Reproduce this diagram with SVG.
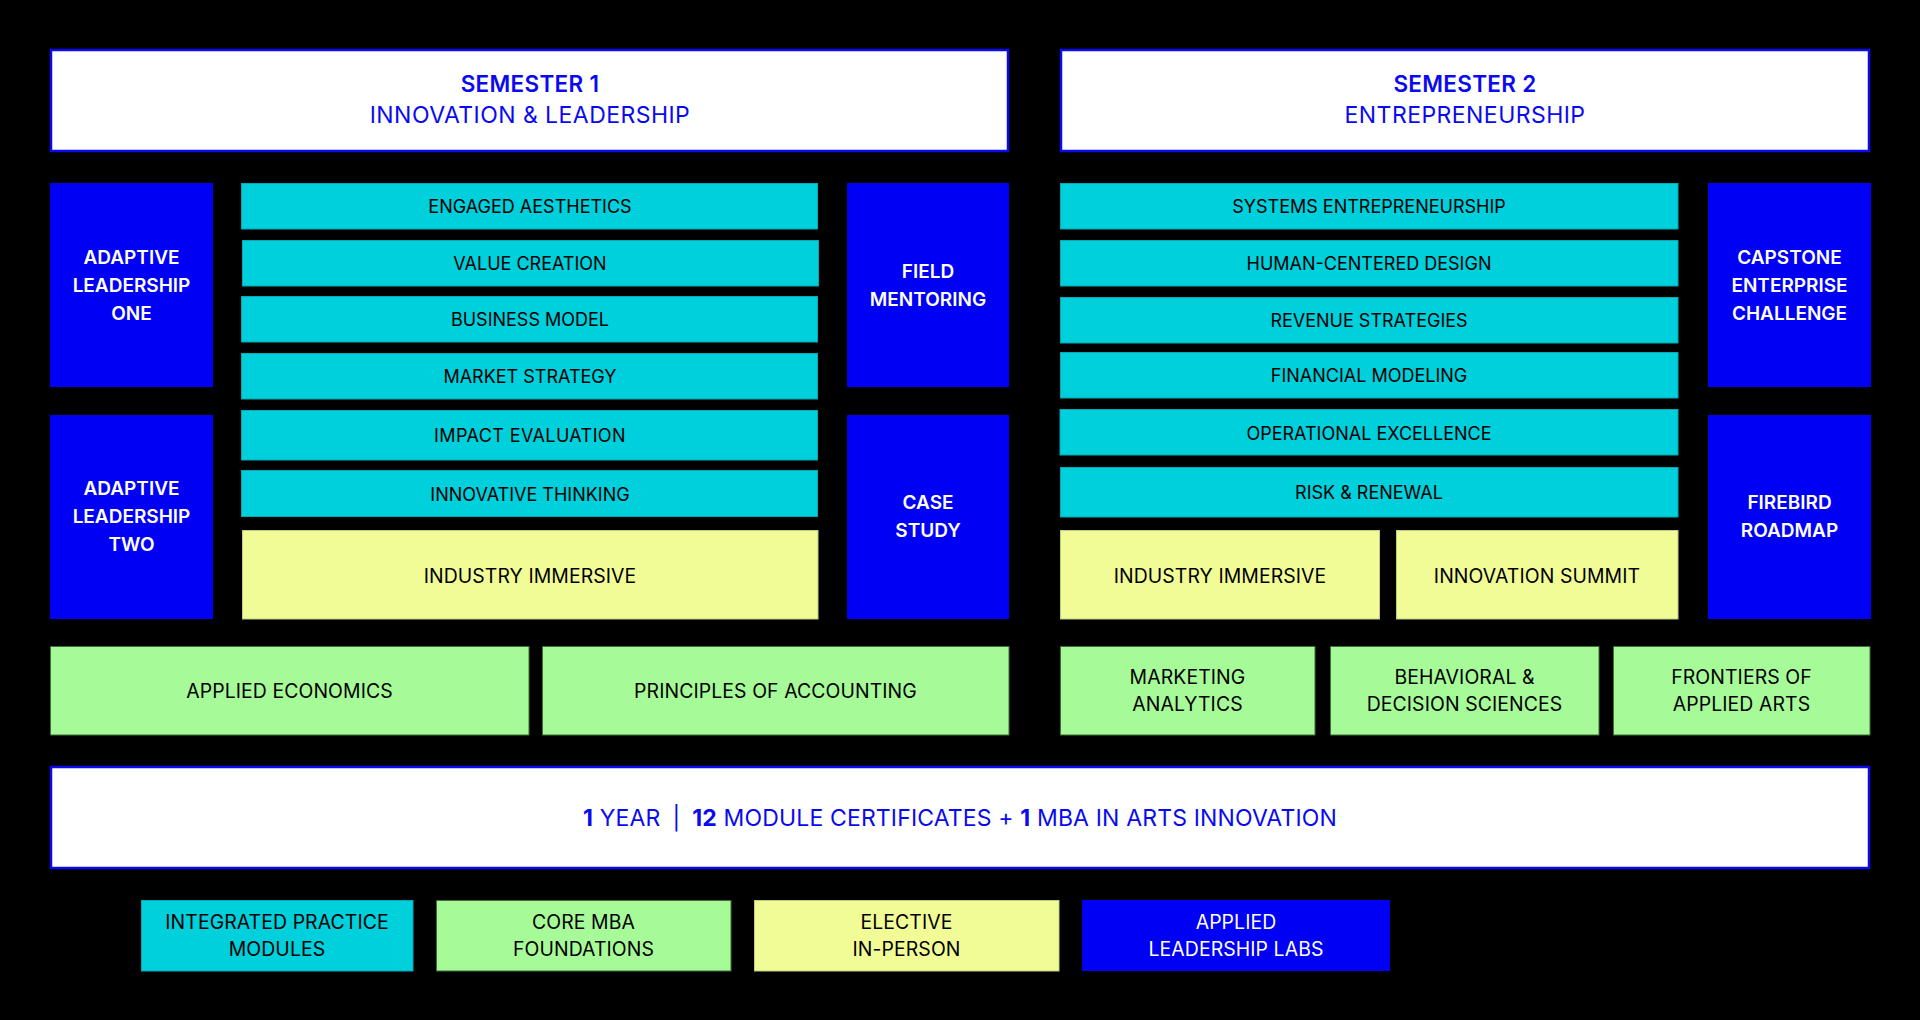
<svg xmlns="http://www.w3.org/2000/svg" width="1920" height="1020" viewBox="0 0 1920 1020">
<style>
text{font-family:Inter,"Noto Sans","Liberation Sans",sans-serif;text-anchor:middle}
.hdr{fill:#fff;stroke:#0a0af0;stroke-width:2.5}
.cy{fill:#00cfdc;stroke:#00a9b4;stroke-width:1}
.ye{fill:#f2fc96;stroke:#c4c97c;stroke-width:1}
.gr{fill:#a6fb98;stroke:#3f6e36;stroke-width:1}
.bl{fill:#0000f5}
.t{font-size:18px;fill:#000}
.s{font-size:19.4px;letter-spacing:0.1px}
.w{font-size:19px;font-weight:600;fill:#fff}
.wl{font-size:19.4px;fill:#fff;letter-spacing:0.1px}
.h1{font-size:22.5px;font-weight:600;fill:#0a0af0;letter-spacing:0.3px}
.h2{font-size:23px;fill:#0a0af0;letter-spacing:0.45px}
.ft{font-size:23px;fill:#0a0af0;letter-spacing:0.15px}
.b{font-weight:700}
</style>
<rect width="1920" height="1020" fill="#000"/>

<g id="semester1">
<rect class="hdr" x="51" y="50" width="957" height="101"/>
<text class="h1" x="530" y="92">SEMESTER 1</text>
<text class="h2" x="530" y="123">INNOVATION &amp; LEADERSHIP</text>
</g>
<g id="semester2">
<rect class="hdr" x="1061" y="50" width="808" height="101"/>
<text class="h1" x="1465" y="92">SEMESTER 2</text>
<text class="h2" x="1465" y="123">ENTREPRENEURSHIP</text>
</g>

<g id="adaptive-one"><rect class="bl" x="50" y="183" width="163" height="204"/>
<text class="w" x="131.5" y="264">ADAPTIVE</text><text class="w" x="131.5" y="292">LEADERSHIP</text><text class="w" x="131.5" y="320">ONE</text></g>
<g id="adaptive-two"><rect class="bl" x="50" y="415" width="163" height="204"/>
<text class="w" x="131.5" y="495">ADAPTIVE</text><text class="w" x="131.5" y="523">LEADERSHIP</text><text class="w" x="131.5" y="551">TWO</text></g>
<g id="field-mentoring"><rect class="bl" x="847" y="183" width="162" height="204"/>
<text class="w" x="928" y="278">FIELD</text><text class="w" x="928" y="306">MENTORING</text></g>
<g id="case-study"><rect class="bl" x="847" y="415" width="162" height="204"/>
<text class="w" x="928" y="509">CASE</text><text class="w" x="928" y="537">STUDY</text></g>
<g id="capstone"><rect class="bl" x="1708" y="183" width="163" height="204"/>
<text class="w" x="1789.5" y="264">CAPSTONE</text><text class="w" x="1789.5" y="292">ENTERPRISE</text><text class="w" x="1789.5" y="320">CHALLENGE</text></g>
<g id="firebird"><rect class="bl" x="1708" y="415" width="163" height="204"/>
<text class="w" x="1789.5" y="509">FIREBIRD</text><text class="w" x="1789.5" y="537">ROADMAP</text></g>

<g id="engaged-aesthetics"><rect class="cy" x="241.5" y="183.5" width="576" height="45.5"/><text class="t" x="530" y="213">ENGAGED AESTHETICS</text></g>
<g id="value-creation"><rect class="cy" x="242.5" y="240.5" width="576" height="45.5"/><text class="t" x="530" y="269.5">VALUE CREATION</text></g>
<g id="business-model"><rect class="cy" x="241.5" y="296.5" width="576" height="45.5"/><text class="t" x="530" y="325.5">BUSINESS MODEL</text></g>
<g id="market-strategy"><rect class="cy" x="241.5" y="353.5" width="576" height="45.5"/><text class="t" x="530" y="382.5">MARKET STRATEGY</text></g>
<g id="impact-evaluation"><rect class="cy" x="241.5" y="410.5" width="576" height="49.5"/><text class="t" x="530" y="442" style="letter-spacing:0.4px">IMPACT EVALUATION</text></g>
<g id="innovative-thinking"><rect class="cy" x="241.5" y="470.5" width="576" height="46"/><text class="t" x="530" y="500.5">INNOVATIVE THINKING</text></g>
<g id="industry-immersive-1"><rect class="ye" x="242.5" y="530.5" width="575.5" height="88.5"/><text class="t s" x="530" y="583">INDUSTRY IMMERSIVE</text></g>

<g id="systems-entrepreneurship"><rect class="cy" x="1060.5" y="183.5" width="617.5" height="45.5"/><text class="t" x="1369" y="213">SYSTEMS ENTREPRENEURSHIP</text></g>
<g id="human-centered-design"><rect class="cy" x="1060.5" y="240.5" width="617.5" height="45.5"/><text class="t" x="1369" y="269.5">HUMAN-CENTERED DESIGN</text></g>
<g id="revenue-strategies"><rect class="cy" x="1060.5" y="297.5" width="617.5" height="45.5"/><text class="t" x="1369" y="327">REVENUE STRATEGIES</text></g>
<g id="financial-modeling"><rect class="cy" x="1060.5" y="352.5" width="617.5" height="45.5"/><text class="t" x="1369" y="382">FINANCIAL MODELING</text></g>
<g id="operational-excellence"><rect class="cy" x="1060" y="409.5" width="618" height="45.5"/><text class="t" x="1369" y="439.5">OPERATIONAL EXCELLENCE</text></g>
<g id="risk-renewal"><rect class="cy" x="1060.5" y="467.5" width="617.5" height="49.5"/><text class="t" x="1369" y="498.5">RISK &amp; RENEWAL</text></g>
<g id="industry-immersive-2"><rect class="ye" x="1060.5" y="530.5" width="319" height="88.5"/><text class="t s" x="1220" y="583">INDUSTRY IMMERSIVE</text></g>
<g id="innovation-summit"><rect class="ye" x="1396.5" y="530.5" width="281.5" height="88.5"/><text class="t s" x="1537" y="583">INNOVATION SUMMIT</text></g>

<g id="applied-economics"><rect class="gr" x="50.5" y="646.5" width="478.5" height="88.5"/><text class="t s" x="289.5" y="698">APPLIED ECONOMICS</text></g>
<g id="principles-accounting"><rect class="gr" x="542.5" y="646.5" width="466.5" height="88.5"/><text class="t s" x="775.5" y="698">PRINCIPLES OF ACCOUNTING</text></g>
<g id="marketing-analytics"><rect class="gr" x="1060.5" y="646.5" width="254.5" height="88.5"/><text class="t s" x="1187.5" y="684">MARKETING</text><text class="t s" x="1187.5" y="711">ANALYTICS</text></g>
<g id="behavioral"><rect class="gr" x="1330.5" y="646.5" width="268.5" height="88.5"/><text class="t s" x="1464.5" y="684">BEHAVIORAL &amp;</text><text class="t s" x="1464.5" y="711">DECISION SCIENCES</text></g>
<g id="frontiers"><rect class="gr" x="1613.5" y="646.5" width="256.5" height="88.5"/><text class="t s" x="1741.5" y="684">FRONTIERS OF</text><text class="t s" x="1741.5" y="711">APPLIED ARTS</text></g>

<g id="summary">
<rect class="hdr" x="51" y="767" width="1818" height="101"/>
<text class="ft" x="960" y="826"><tspan class="b">1</tspan> YEAR<tspan dx="12">|</tspan><tspan class="b" dx="12">12</tspan> MODULE CERTIFICATES + <tspan class="b">1</tspan> MBA IN ARTS INNOVATION</text>
</g>

<g id="legend">
<g id="legend-integrated"><rect class="cy" x="141.5" y="900.5" width="271.5" height="70.5"/><text class="t s" x="277" y="929">INTEGRATED PRACTICE</text><text class="t s" x="277" y="956">MODULES</text></g>
<g id="legend-core"><rect class="gr" x="436.5" y="900.5" width="294.5" height="70.5"/><text class="t s" x="583.5" y="929">CORE MBA</text><text class="t s" x="583.5" y="956">FOUNDATIONS</text></g>
<g id="legend-elective"><rect class="ye" x="754.5" y="900.5" width="304.5" height="70.5"/><text class="t s" x="906.5" y="929">ELECTIVE</text><text class="t s" x="906.5" y="956">IN-PERSON</text></g>
<g id="legend-labs"><rect class="bl" x="1082" y="900" width="308" height="71"/><text class="wl" x="1236" y="929">APPLIED</text><text class="wl" x="1236" y="956">LEADERSHIP LABS</text></g>
</g>
<g id="connectors"/>
</svg>
